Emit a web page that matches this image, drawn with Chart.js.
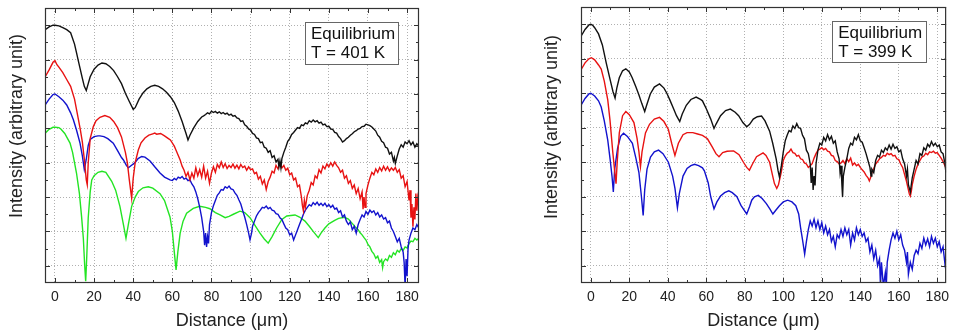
<!DOCTYPE html>
<html><head><meta charset="utf-8">
<script src="https://cdn.jsdelivr.net/npm/chart.js@4/dist/chart.umd.min.js"></script>
<style>
html,body{margin:0;padding:0;background:#fff;width:955px;height:333px;overflow:hidden;}
#wrapL{position:absolute;left:0;top:0;width:430px;height:333px;}
#wrapR{position:absolute;left:530px;top:0;width:425px;height:333px;}
</style></head><body>
<div id="wrapL"><canvas id="cL"></canvas></div>
<div id="wrapR"><canvas id="cR"></canvas></div>
<script>
// ---------- tick labels / grid positions ----------
const xTickValues = [0,20,40,60,80,100,120,140,160,180];
const yGridValues = [0,1,2,3,4,5,6,7];
const xTitle = 'Distance (μm)';
const yTitle = 'Intensity (arbitrary unit)';
const leftLabel = ['Equilibrium','T = 401 K'];
const rightLabel = ['Equilibrium','T = 399 K'];

// ---------- LEFT panel (T = 401 K) ----------
const L_black = [[-5,6.87],[-3,6.95],[-1,7.0],[0,7.0],[2,6.98],[4,6.93],[6,6.87],[8,6.78],[10,6.45],[11,6.2],[12,5.95],[13,5.7],[14,5.45],[15,5.22],[16,5.1],[17,5.3],[18,5.5],[20,5.72],[22,5.84],[24,5.9],[26,5.88],[28,5.8],[30,5.68],[32,5.5],[34,5.3],[36,5.02],[38,4.78],[40,4.55],[41,4.6],[43,4.85],[45,5.03],[47,5.15],[49,5.22],[51,5.25],[53,5.22],[55,5.15],[57,5.05],[59,4.92],[61,4.75],[63,4.5],[65,4.2],[67,3.85],[68,3.66],[69,3.8],[71,4.02],[73,4.2],
[75,4.33],[76,4.36],[77,4.40],[78,4.45],[79,4.42],[80,4.50],[81,4.46],[82,4.49],[83,4.44],[84,4.48],[85,4.43],[86,4.46],[87,4.41],[88,4.44],[89,4.38],[90,4.41],[91,4.35],[92,4.37],[93,4.30],[94,4.28],[95,4.20],[96,4.22],[97,4.10],[98,4.06],[99,3.98],[100,3.95],[101,3.85],[102,3.82],[103,3.72],[104,3.70],[105,3.58],[106,3.60],[107,3.45],[108,3.42],[109,3.30],[110,3.35],[111,3.15],[112,3.20],[113,3.02],[114,3.10],[114.5,2.88],[115,3.05],[115.5,2.85],[116,3.12],[117,3.30],[118,3.45],[119,3.62],[120,3.70],[121,3.82],[122,3.88],[123,3.95],[124,4.02],[125,4.00],[126,4.10],[127,4.08],[128,4.16],[129,4.13],[130,4.22],[131,4.18],[132,4.24],[133,4.19],[134,4.22],[135,4.15],[136,4.18],[137,4.10],[138,4.12],[139,4.05],[140,4.06],[141,3.98],[142,3.97],[143,3.88],[144,3.86],[145,3.76],[146,3.70],[147,3.60],[148,3.64],[149,3.70],[150,3.74],[151,3.80],[152,3.84],[153,3.90],[154,3.93],[155,3.98],[156,4.00],[157,4.05],[158,4.06],[159,4.12],[160,4.10],[161,4.08],[162,4.04],[163,3.98],[164,3.92],[165,3.80],[166,3.74],[167,3.62],[168,3.58],[169,3.45],[170,3.42],[171,3.25],[172,3.30],[173,3.05],[173.5,3.15],[174,2.98],[175,3.20],[176,3.40],[177,3.52],[178,3.45],[179,3.60],[180,3.55],[181,3.64],[182,3.52],[183,3.60],[184,3.45],[185,3.55],[186,3.48]];

const L_red = [[-5,5.5],[-3,5.7],[-1,5.92],[0,5.97],[1,5.85],[2,5.78],[4,5.62],[6,5.42],[8,5.22],[10,4.85],[12,4.25],[13,3.95],[14,3.6],[15,3.1],[16,2.5],[16.5,2.36],[17,3.0],[18,3.7],[19.6,4.05],[21,4.22],[23,4.32],[25.5,4.37],[28,4.32],[30,4.2],[32,4.02],[34,3.75],[36,3.3],[37,3.0],[38,2.5],[39.2,1.97],[40,2.55],[41,3.0],[42.6,3.37],[44,3.58],[46,3.72],[48,3.8],[50,3.84],[51,3.86],[52,3.83],[54,3.85],[56,3.78],[58,3.7],[59,3.66],[61,3.48],[62,3.35],[64,3.08],[65,2.9],
[66,2.78],[67,2.60],[68,2.72],[69,2.50],[70,2.70],[71,2.55],[72,2.85],[73,2.62],[74,2.80],[75,2.58],[76,2.90],[77,2.55],[78,2.75],[79,2.40],[80,2.70],[81,2.88],[82,2.72],[83,2.95],[84,2.85],[85,3.02],[86,2.86],[87,2.97],[88,2.83],[89,2.92],[90,2.86],[91,2.96],[92,2.84],[93,2.93],[94,2.82],[95,2.95],[96,2.86],[97,2.90],[98,2.78],[99,2.88],[100,2.80],[101,2.82],[102,2.68],[103,2.72],[104,2.52],[105,2.60],[106,2.38],[107,2.50],[108,2.22],[109,2.45],[110,2.58],[111,2.75],[112,2.70],[113,2.92],[114,2.82],[115,2.98],[116,2.85],[117,2.92],[118,2.78],[119,2.84],[120,2.65],[121,2.70],[122,2.50],[123,2.55],[124,2.30],[125,2.35],[126,2.00],[126.5,1.75],[127,1.60],[127.5,1.90],[128,1.70],[129,2.05],[130,2.20],[131,2.42],[132,2.35],[133,2.62],[134,2.55],[135,2.80],[136,2.70],[137,2.90],[138,2.82],[139,2.96],[140,2.88],[141,3.00],[142,2.90],[143,3.02],[144,2.92],[145,2.85],[146,2.72],[147,2.78],[148,2.55],[149,2.62],[150,2.40],[151,2.48],[152,2.25],[153,2.35],[154,2.10],[155,2.25],[156,1.95],[157,2.15],[157.5,1.65],[158,2.0],[158.5,1.70],[159,2.10],[160,2.35],[161,2.55],[162,2.72],[163,2.65],[164,2.82],[165,2.72],[166,2.86],[167,2.76],[168,2.90],[169,2.78],[170,2.88],[171,2.76],[172,2.85],[173,2.78],[174,2.86],[175,2.72],[176,2.80],[177,2.55],[178,2.62],[179,2.30],[180,2.45],[181,1.90],[181.5,2.20],[182,1.40],[182.5,1.80],[183,1.14],[183.5,1.70],[184,1.35],[184.5,2.10],[185,1.60],[185.5,2.0],[186,1.85]];

const L_blue = [[-5,4.68],[-3,4.85],[-1,4.98],[0,5.0],[2,4.92],[4,4.82],[6,4.68],[8,4.45],[9.4,4.25],[11,3.95],[12.8,3.57],[14,3.2],[15,2.8],[16,3.1],[17,3.5],[18,3.68],[20,3.76],[22,3.78],[23,3.78],[25,3.76],[27,3.7],[29.8,3.57],[32,3.35],[34,3.15],[35,3.08],[36.5,2.92],[37.5,2.85],[39,2.92],[40.9,3.0],[42.5,3.12],[44.3,3.18],[46,3.16],[48.6,3.05],[51,2.88],[53.7,2.7],[56,2.58],[58.8,2.5],[60,2.48],
[61,2.54],[62,2.50],[63,2.58],[64,2.55],[65,2.60],[66,2.52],[67,2.55],[68,2.48],[69,2.50],[70,2.38],[71,2.30],[72,2.15],[73,1.95],[74,1.70],[75,1.40],[76,1.00],[76.5,0.60],[77,0.95],[77.5,0.55],[78,0.85],[78.5,0.65],[79,1.20],[80,1.55],[81,1.75],[82,1.90],[83,2.05],[84,2.12],[85,2.22],[86,2.20],[87,2.30],[88,2.26],[89,2.32],[90,2.24],[91,2.22],[92,2.12],[93,2.05],[94,1.92],[95,1.80],[96,1.60],[97,1.42],[98,1.20],[99,0.95],[99.7,0.76],[100.5,0.95],[101,1.15],[102,1.30],[103,1.45],[104,1.55],[105,1.62],[106,1.70],[107,1.68],[108,1.74],[109,1.66],[110,1.70],[111,1.62],[112,1.60],[113,1.52],[114,1.50],[115,1.40],[116,1.35],[117,1.22],[118,1.10],[119,1.05],[120,0.90],[121,0.95],[122,0.75],[123,0.90],[124,1.05],[125,1.20],[126,1.35],[127,1.50],[128,1.62],[129,1.70],[130,1.78],[131,1.74],[132,1.84],[133,1.78],[134,1.85],[135,1.76],[136,1.82],[137,1.75],[138,1.82],[139,1.72],[140,1.78],[141,1.70],[142,1.76],[143,1.65],[144,1.68],[145,1.55],[146,1.60],[147,1.42],[148,1.48],[149,1.30],[150,1.20],[151,1.28],[152,1.05],[153,1.15],[154,0.95],[155,1.20],[156,1.35],[157,1.48],[158,1.42],[159,1.58],[160,1.50],[161,1.62],[162,1.55],[163,1.60],[164,1.48],[165,1.55],[166,1.42],[167,1.48],[168,1.36],[169,1.40],[170,1.25],[171,1.30],[172,1.10],[173,1.00],[174,0.85],[175,0.70],[176,0.80],[177,0.55],[178,0.40],[178.5,0.10],[179,-0.6],[179.5,0.20],[180,-0.3],[180.5,0.50],[181,0.75],[182,0.95],[183,1.10],[184,1.05],[185,1.20],[186,1.10]];

const L_green = [[-5,3.86],[-3,3.97],[-1,4.03],[0,4.03],[2,4.02],[3,3.98],[5,3.85],[7.7,3.57],[9,3.3],[11,2.7],[12.5,2.1],[13.6,1.43],[14.5,0.8],[15.2,0.0],[15.7,-0.45],[16.2,0.2],[17,1.4],[18,2.15],[18.8,2.5],[20,2.62],[22,2.72],[24,2.75],[26,2.72],[29,2.46],[31,2.2],[33.2,1.73],[35,1.2],[36.3,0.8],[37.5,1.2],[39.2,1.73],[41,2.0],[42.6,2.16],[45,2.27],[47.7,2.3],[50,2.26],[53.7,2.1],[56,1.9],[58.8,1.42],[60,1.0],[61,0.4],[61.9,-0.12],[62.8,0.4],[64,0.95],[65.5,1.3],[67.3,1.53],[70.7,1.67],[74,1.73],[77,1.7],[79.2,1.66],[82,1.55],[84.4,1.48],[87,1.4],[89,1.44],[91.2,1.5],[94.6,1.59],[97,1.55],[99.7,1.4],[102,1.2],[104.8,0.95],[107,0.78],[109,0.66],[111,0.85],[113.3,1.1],[116,1.35],[118.5,1.45],[122.7,1.48],[125,1.42],[127.8,1.3],[130,1.15],[132,1.0],[134.6,0.82],[136,0.95],[138,1.1],[140,1.22],[143,1.32],[145,1.38],[148,1.41],[150,1.36],[153.4,1.14],
[155,1.05],[156,0.96],[157,0.90],[158,0.82],[159,0.75],[160,0.62],[161,0.55],[162,0.42],[163,0.35],[164,0.22],[165,0.28],[166,0.10],[167,0.18],[167.5,-0.05],[168,0.12],[169,0.20],[170,0.15],[171,0.30],[172,0.25],[173,0.38],[174,0.32],[175,0.45],[176,0.40],[177,0.50],[178,0.45],[179,0.55],[180,0.52],[181,0.65],[182,0.72],[183,0.70],[184,0.80],[185,0.75],[186,0.80]];

// ---------- RIGHT panel (T = 399 K) ----------
const R_black = [[-5,6.66],[-3,6.85],[-1,6.98],[0,7.0],[1,6.97],[2,6.9],[4,6.72],[6,6.4],[8,5.88],[10,5.4],[11.5,5.05],[12.6,4.86],[13.5,5.15],[14.8,5.45],[16.5,5.65],[18.2,5.71],[20,5.62],[21.5,5.45],[23.3,5.2],[25,4.95],[26.5,4.7],[28,4.47],[29,4.65],[30.9,4.98],[33,5.18],[35.7,5.27],[38,5.15],[39.5,5.0],[41.1,4.8],[43,4.55],[44.5,4.35],[46.2,4.18],[47.5,4.4],[49.6,4.65],[52,4.82],[54.7,4.89],[57,4.82],[58,4.78],[60,4.55],[62.3,4.25],[64,3.98],[65,4.1],[67.4,4.35],[70,4.5],[72.5,4.54],[75,4.45],[76.8,4.35],[79,4.15],[81,4.03],[82.5,4.1],[84.4,4.25],[86.5,4.32],[88.7,4.34],[90.5,4.2],[92.9,3.9],[94.5,3.55],[96.3,3.1],[97.3,2.75],[98,2.57],
[99,2.90],[100,3.30],[101,3.62],[102,3.78],[103,3.92],[104,3.88],[105,4.05],[106,3.98],[107,4.12],[108,4.00],[109,3.98],[110,3.78],[111,3.68],[112,3.35],[113,3.25],[114,2.95],[114.5,2.40],[115,2.85],[115.5,2.20],[116,2.60],[116.5,2.33],[117,2.95],[118,3.35],[119,3.55],[120,3.50],[121,3.72],[122,3.62],[123,3.80],[124,3.65],[125,3.75],[126,3.55],[127,3.62],[128,3.30],[129,3.10],[129.5,2.70],[130,2.90],[130.5,2.30],[130.8,1.99],[131.2,2.60],[132,2.85],[133,3.10],[134,3.40],[135,3.55],[136,3.50],[137,3.72],[138,3.65],[139,3.80],[140,3.62],[141,3.58],[142,3.42],[143,3.25],[144,3.05],[145,2.85],[145.6,2.60],[146,2.80],[147,2.70],[148,3.05],[149,3.20],[150,3.15],[151,3.35],[152,3.28],[153,3.42],[154,3.35],[155,3.50],[156,3.38],[157,3.52],[158,3.40],[159,3.45],[160,3.30],[161,3.35],[162,3.10],[163,2.95],[164,2.60],[164.5,2.80],[165,2.35],[166,2.14],[167,2.55],[168,2.80],[169,3.05],[170,2.95],[171,3.25],[172,3.20],[173,3.42],[174,3.35],[175,3.52],[176,3.45],[177,3.60],[178,3.48],[179,3.55],[180,3.45],[181,3.50],[182,3.30],[183,3.25],[184,2.95],[184.5,2.70]];

const R_red = [[-5,5.69],[-3,5.88],[-1,6.0],[0.3,6.03],[2,5.97],[4,5.82],[5.4,5.7],[7,5.35],[8.8,4.81],[10,4.2],[11.4,3.3],[12.3,2.8],[13.1,2.38],[13.7,3.0],[14.8,3.85],[16.5,4.35],[18.2,4.47],[20,4.38],[22.4,4.15],[24,3.7],[25,3.3],[25.8,2.87],[26.6,3.3],[28.4,3.85],[30.5,4.1],[33,4.25],[35.7,4.3],[38,4.18],[40.3,3.95],[42,3.55],[43.7,3.2],[45.5,3.55],[47.9,3.8],[50,3.86],[53,3.86],[55.5,3.82],[58,3.78],[60.6,3.68],[63,3.45],[65,3.25],[66.6,3.16],[68.5,3.28],[70.8,3.32],[74.2,3.33],[77,3.22],[79.3,3.0],[81,2.85],[82.4,2.77],[84,2.95],[86.1,3.16],[89.5,3.27],[91,3.2],[92.9,3.0],[94.5,2.6],[95.4,2.38],[96.6,2.24],[97.5,2.35],[98.9,2.7],
[100,3.05],[101,3.18],[102,3.26],[103,3.30],[104,3.38],[105,3.28],[106,3.26],[107,3.18],[108,3.20],[109,3.10],[110,3.08],[111,2.98],[112,2.95],[113,2.85],[114,2.90],[115,2.96],[116,3.12],[117,3.25],[118,3.35],[119,3.38],[120,3.42],[121,3.36],[122,3.40],[123,3.32],[124,3.30],[125,3.20],[126,3.18],[127,3.05],[128,3.02],[129,2.95],[130,2.98],[131,3.05],[132,2.96],[133,3.10],[134,3.02],[135,3.12],[136,2.92],[137,2.98],[138,2.90],[139,2.94],[140,2.85],[141,2.78],[142,2.72],[143,2.62],[144,2.55],[144.7,2.46],[145.5,2.58],[146,2.70],[147,2.82],[148,2.95],[149,3.02],[150,3.10],[151,3.14],[152,3.20],[153,3.18],[154,3.26],[155,3.22],[156,3.25],[157,3.18],[158,3.20],[159,3.10],[160,3.08],[161,2.95],[162,2.85],[163,2.65],[164,2.45],[165,2.20],[165.5,2.08],[166,2.02],[166.5,2.15],[167,2.35],[168,2.60],[169,2.80],[170,2.95],[171,3.05],[172,3.15],[173,3.18],[174,3.26],[175,3.22],[176,3.30],[177,3.28],[178,3.32],[179,3.26],[180,3.28],[181,3.20],[182,3.12],[183,3.02],[184,2.90],[184.5,2.83]];

const R_blue = [[-5,4.66],[-3,4.85],[-1,4.98],[0,5.0],[2,4.92],[4,4.78],[5.4,4.6],[7,4.2],[8.8,3.64],[10,3.1],[11,2.6],[11.7,2.14],[12.4,2.8],[13.9,3.4],[15.5,3.75],[17,3.84],[19,3.75],[21.6,3.55],[23.5,3.1],[25,2.7],[26.3,2.0],[27.2,1.46],[28,2.2],[29.2,2.8],[31,3.15],[33,3.3],[35.2,3.35],[37.5,3.25],[40.3,3.0],[42.5,2.6],[43.7,2.25],[45,1.68],[46,2.1],[47.9,2.6],[50,2.82],[52,2.9],[53.9,2.94],[56,2.9],[58,2.84],[59,2.75],[61,2.4],[62.3,2.0],[64,1.65],[65.5,1.85],[67.4,2.02],[69.5,2.12],[71.7,2.17],[73.5,2.12],[75.9,2.0],[78,1.75],[81,1.5],[82.5,1.72],[83.6,1.9],[85,2.0],[87,2.04],[89,1.95],[91.2,1.8],[93,1.65],[94.6,1.5],[96,1.6],[98,1.74],[100,1.85],[102.3,1.9],[104.5,1.85],[106.5,1.74],[108,1.5],[109,1.1],[110,0.75],[111.1,0.34],
[112,0.70],[113,1.05],[114,1.30],[115,1.15],[116,1.35],[117,1.10],[118,1.30],[119,1.05],[120,1.25],[121,0.95],[122,1.15],[123,0.90],[124,1.05],[125,0.70],[126,0.85],[127,0.55],[128,0.90],[129,0.80],[130,1.05],[131,0.85],[132,1.10],[133,0.90],[134,1.05],[135,0.60],[136,0.95],[137,0.75],[138,1.10],[139,0.90],[140,1.05],[141,0.85],[142,0.95],[143,0.70],[144,0.80],[145,0.40],[146,0.60],[147,0.20],[148,0.45],[149,0.00],[150,0.20],[150.5,-0.60],[151,0.10],[152,-0.60],[153,-0.20],[153.5,-0.60],[154,0.10],[155,0.45],[156,0.75],[157,0.95],[158,0.80],[159,1.00],[160,0.75],[161,0.90],[162,0.60],[163,0.45],[164,0.10],[164.5,0.40],[165,-0.25],[166,0.10],[167,-0.10],[168,0.30],[169,0.45],[170,0.35],[171,0.65],[172,0.50],[173,0.80],[174,0.60],[175,0.78],[176,0.55],[177,0.85],[178,0.65],[179,0.80],[180,0.55],[181,0.70],[182,0.40],[183,0.55],[184,0.05],[184.5,0.20]];

// ---------- styling ----------
const COL = {black:'#111111', red:'rgb(232,18,18)', blue:'rgb(18,18,205)', green:'rgb(35,228,35)'};
const FONT = '"Liberation Sans", Arial, sans-serif';

const toXY = arr => arr.map(([x,y]) => ({x, y}));

const framePlugin = {
  id: 'frameTicks',
  afterDatasetsDraw(chart) {
    const {ctx, chartArea: a, scales: {x, y}} = chart;
    ctx.save();
    ctx.strokeStyle = '#333';
    ctx.lineWidth = 1;
    ctx.beginPath();
    const tick = (p, len, vertical) => {
      p = Math.round(p) + 0.5;
      if (vertical) {
        ctx.moveTo(p, a.top); ctx.lineTo(p, a.top + len);
        ctx.moveTo(p, a.bottom); ctx.lineTo(p, a.bottom - len);
      } else {
        ctx.moveTo(a.left, p); ctx.lineTo(a.left + len, p);
        ctx.moveTo(a.right, p); ctx.lineTo(a.right - len, p);
      }
    };
    xTickValues.forEach(v => {
      tick(x.getPixelForValue(v), 5, true);
      const m = x.getPixelForValue(v + 10);
      if (m < a.right - 1) tick(m, 3, true);
    });
    yGridValues.forEach(v => {
      tick(y.getPixelForValue(v), 5, false);
      tick(y.getPixelForValue(v + 0.5), 3, false);
    });
    ctx.stroke();
    ctx.lineWidth = 1.2;
    ctx.strokeRect(a.left + 0.5, a.top + 0.5, a.right - a.left - 1, a.bottom - a.top - 1);
    ctx.restore();
  },
  afterDraw(chart, args, opts) {
    const {ctx, chartArea: a} = chart;
    ctx.save();
    ctx.translate(opts.yTitleX, opts.yTitleY);
    ctx.rotate(-Math.PI / 2);
    ctx.fillStyle = '#222';
    ctx.font = '18px ' + FONT;
    ctx.textAlign = 'center';
    ctx.textBaseline = 'middle';
    ctx.fillText(yTitle, 0, 0);
    ctx.restore();
    ctx.save();
    const bx = a.right - opts.boxRight - opts.boxW, by = a.top + opts.boxTop;
    ctx.fillStyle = '#fff';
    ctx.fillRect(bx, by, opts.boxW, opts.boxH);
    ctx.strokeStyle = '#666';
    ctx.lineWidth = 1;
    ctx.strokeRect(Math.round(bx) + 0.5, Math.round(by) + 0.5, opts.boxW, opts.boxH);
    ctx.fillStyle = '#111';
    ctx.font = '17px ' + FONT;
    ctx.textAlign = 'left';
    ctx.textBaseline = 'middle';
    opts.lines.forEach((t, i) => ctx.fillText(t, bx + 6, by + 12 + i * 19));
    ctx.restore();
  }
};

function makeChart(id, series, xMax, pad, yAxisW, opts) {
  return new Chart(document.getElementById(id), {
    type: 'line',
    data: {
      datasets: series.map(([d, c], i) => ({
        data: toXY(d), borderColor: c, borderWidth: 1.4, pointRadius: 0,
        tension: 0, fill: false, order: series.length - i
      }))
    },
    options: {
      responsive: true, maintainAspectRatio: false, animation: false,
      layout: {padding: pad},
      plugins: {legend: {display: false}, tooltip: {enabled: false}, frameTicks: opts},
      scales: {
        x: {
          type: 'linear', min: -5.1, max: xMax,
          afterBuildTicks: s => { s.ticks = xTickValues.map(v => ({value: v})); },
          ticks: {font: {size: 14, family: FONT}, color: '#222', padding: 6, maxRotation: 0},
          grid: {color: '#b0b0b0', lineWidth: 1, drawTicks: false},
          border: {display: false, dash: [1, 2]},
          title: {display: true, text: xTitle, font: {size: 18, family: FONT}, color: '#222', padding: {top: 0, bottom: 1}},
          afterFit: s => { s.height = 50; }
        },
        y: {
          type: 'linear', min: -0.5, max: 7.5,
          afterBuildTicks: s => { s.ticks = yGridValues.map(v => ({value: v})); },
          ticks: {display: false},
          grid: {color: '#b0b0b0', lineWidth: 1, drawTicks: false},
          border: {display: false, dash: [1, 2]},
          afterFit: s => { s.width = yAxisW; }
        }
      }
    },
    plugins: [framePlugin]
  });
}

makeChart('cL',
  [[L_green, COL.green], [L_blue, COL.blue], [L_red, COL.red], [L_black, COL.black]],
  186.1, {top: 8, right: 11, left: 0, bottom: 0}, 45,
  {yTitleX: 17, yTitleY: 126, boxRight: 21, boxTop: 14, boxW: 93, boxH: 42, lines: leftLabel});

makeChart('cR',
  [[R_blue, COL.blue], [R_red, COL.red], [R_black, COL.black]],
  184.6, {top: 7, right: 2, left: 0, bottom: 0}, 51,
  {yTitleX: 22, yTitleY: 127, boxRight: 20, boxTop: 14, boxW: 94, boxH: 41, lines: rightLabel});
</script>
</body></html>
